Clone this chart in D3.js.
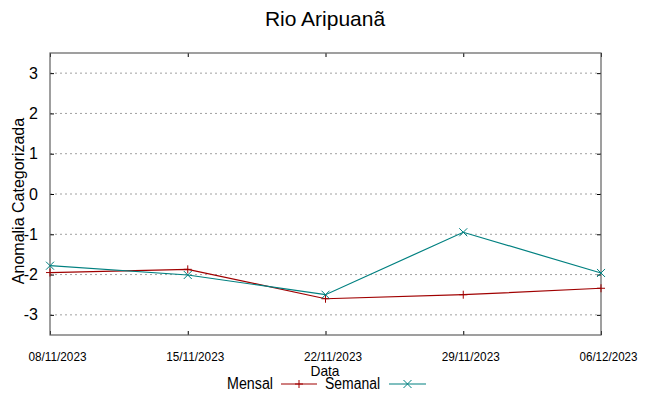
<!DOCTYPE html>
<html><head><meta charset="utf-8">
<script src="https://cdn.jsdelivr.net/npm/d3@7"></script>
<style>body{margin:0;background:#fff}svg{display:block}text{font-family:"Liberation Sans",Arial,sans-serif;fill:#000}</style>
</head><body><svg id="c" width="649" height="396"></svg>
<script>
const dates = ["08/11/2023","15/11/2023","22/11/2023","29/11/2023","06/12/2023"];
const mensal = [-1.95, -1.87, -2.60, -2.50, -2.34];
const semanal = [-1.78, -2.01, -2.50, -0.95, -1.96];
const yTicks = [-3,-2,-1,0,1,2,3];
const title = "Rio Aripuanã";
const xLabel = "Data";
const yLabel = "Anomalia Categorizada";
const seriesNames = ["Mensal","Semanal"];

const svg = d3.select("#c");
const L=50,R=601,T=53,B=335;
const x = d3.scalePoint().domain(dates).range([L,R]);
const y = d3.scaleLinear().domain([-3.5,3.5]).range([B,T]);
const red="#a00000", teal="#008080", axisC="#606060";

// grid
svg.append("g").selectAll("line").data(yTicks).join("line")
  .attr("x1",L).attr("x2",R).attr("y1",d=>y(d)).attr("y2",d=>y(d))
  .attr("stroke","#a0a0a0").attr("stroke-width",1).attr("stroke-dasharray","2,3");

// axes
const gl = svg.append("g").attr("transform",`translate(${L},0)`).call(d3.axisLeft(y).tickValues(yTicks).tickSize(-4).tickPadding(12).tickFormat(d=>String(d)));
const gr = svg.append("g").attr("transform",`translate(${R},0)`).call(d3.axisRight(y).tickValues(yTicks).tickSize(-4).tickFormat(""));
const gb = svg.append("g").attr("transform",`translate(0,${B})`).call(d3.axisBottom(x).tickSize(-4).tickPadding(0).tickFormat(""));
const gt = svg.append("g").attr("transform",`translate(0,${T})`).call(d3.axisTop(x).tickSize(-4).tickFormat(""));
[gl,gr,gb,gt].forEach(g=>{g.select(".domain").remove();g.selectAll(".tick line").attr("stroke","#000");});
gl.selectAll(".tick text").attr("font-size","16px").attr("font-family","Liberation Sans, Arial, sans-serif").attr("fill","#333");
svg.append("rect").attr("x",L).attr("y",T).attr("width",R-L).attr("height",B-T)
  .attr("fill","none").attr("stroke",axisC).attr("stroke-width",1.2);

// x tick labels
svg.append("g").selectAll("text").data(dates).join("text")
  .attr("x",d=>x(d)+7.5).attr("y",361).attr("text-anchor","middle")
  .attr("font-size","12.5px").attr("textLength",58).attr("lengthAdjust","spacingAndGlyphs")
  .attr("fill","#222").text(d=>d);

// lines
const line = d3.line().x((d,i)=>x(dates[i])).y(d=>y(d));
function drawSeries(vals,color,sym){
  svg.append("path").datum(vals).attr("d",line).attr("fill","none").attr("stroke",color).attr("stroke-width",1.2);
  const g=svg.append("g");
  vals.forEach((v,i)=>drawSym(g,x(dates[i]),y(v),color,sym));
}
function drawSym(g,cx,cy,color,sym){
  const s=4;
  if(sym==="+"){
    g.append("line").attr("x1",cx-s).attr("x2",cx+s).attr("y1",cy).attr("y2",cy).attr("stroke",color);
    g.append("line").attr("x1",cx).attr("x2",cx).attr("y1",cy-s).attr("y2",cy+s).attr("stroke",color);
  } else {
    g.append("line").attr("x1",cx-s).attr("x2",cx+s).attr("y1",cy-s).attr("y2",cy+s).attr("stroke",color);
    g.append("line").attr("x1",cx-s).attr("x2",cx+s).attr("y1",cy+s).attr("y2",cy-s).attr("stroke",color);
  }
}
drawSeries(mensal,red,"+");
drawSeries(semanal,teal,"x");

// title & labels
svg.append("text").attr("x",325).attr("y",26).attr("text-anchor","middle").attr("font-size","21px").attr("fill","#111").text(title);
svg.append("text").attr("x",325).attr("y",376).attr("text-anchor","middle").attr("font-size","15px")
  .attr("textLength",29).attr("lengthAdjust","spacingAndGlyphs").attr("fill","#222").text(xLabel);
svg.append("text").attr("transform","translate(24,201) rotate(-90)").attr("text-anchor","middle").attr("font-size","16px").attr("fill","#222").text(yLabel);

// legend
const lg=svg.append("g");
const legend=[{n:seriesNames[0],c:red,s:"+",tx:273,tw:46,l1:281,l2:317},{n:seriesNames[1],c:teal,s:"x",tx:380,tw:55,l1:389,l2:426}];
legend.forEach(e=>{
  lg.append("text").attr("x",e.tx).attr("y",389).attr("text-anchor","end").attr("font-size","16px")
    .attr("textLength",e.tw).attr("lengthAdjust","spacingAndGlyphs").attr("fill","#222").text(e.n);
  lg.append("line").attr("x1",e.l1).attr("x2",e.l2).attr("y1",384).attr("y2",384).attr("stroke",e.c).attr("stroke-width",1.2);
  drawSym(lg,(e.l1+e.l2)/2,384,e.c,e.s);
});
</script></body></html>
